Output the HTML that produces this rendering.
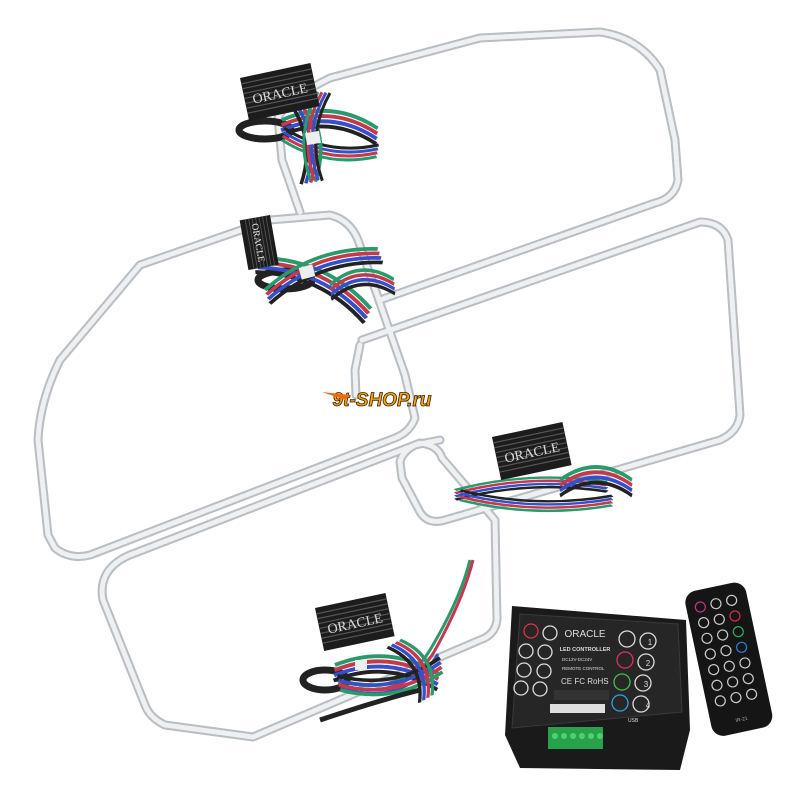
<!DOCTYPE html>
<html><head><meta charset="utf-8"><style>
html,body{margin:0;padding:0;background:#fff;width:800px;height:800px;overflow:hidden}
svg{display:block}
</style></head><body>
<svg width="800" height="800" viewBox="0 0 800 800" xmlns="http://www.w3.org/2000/svg">
<defs>
<g id="box">
<rect x="0" y="0" width="72" height="44" fill="#1c1c1c"/>
<g stroke="#555" stroke-width="1.2">
<line x1="0" y1="6" x2="72" y2="6"/><line x1="0" y1="11" x2="72" y2="11"/><line x1="0" y1="16" x2="72" y2="16"/><line x1="0" y1="21" x2="72" y2="21"/><line x1="0" y1="26" x2="72" y2="26"/><line x1="0" y1="31" x2="72" y2="31"/><line x1="0" y1="36" x2="72" y2="36"/>
</g>
<text x="36" y="28" font-family="Liberation Serif,serif" font-size="14" fill="#ddd" text-anchor="middle">ORACLE</text>
</g>
<g id="bund" fill="none" stroke-width="3">
<path d="M0,0 Q40,-20 80,0" stroke="#2a9a6a"/>
<path d="M0,4 Q40,-16 80,4" stroke="#c23a50"/>
<path d="M0,8 Q40,-12 80,8" stroke="#3550c8"/>
<path d="M0,12 Q40,-8 80,12" stroke="#222"/>
</g>
</defs>
<g fill="none" stroke-linejoin="round" stroke-linecap="round">
<g stroke="#b9bec4" stroke-width="9">
<path d="M300,212 L282,160 L278,118 Q285,100 330,78 L480,38 L600,32 Q640,38 660,70 L675,140 L678,180 Q675,198 655,203 L380,300"/>
<path d="M48,535 L38,440 Q40,400 60,360 L140,265 L270,220 L330,215 Q350,220 358,240 L405,375 L415,418 Q410,432 395,438 L90,555 Q70,560 55,548 Z"/>
<path d="M362,340 L700,222 Q722,222 728,240 L740,415 Q738,432 720,440 L445,520 Q428,525 420,512 L402,478 L400,462 Q402,452 415,445 L440,440"/>
<path d="M360,345 L355,370 L356,395"/>
<path d="M107,573 Q115,560 135,553 L420,443 Q438,445 442,458 L495,520 L497,620 Q495,635 480,640 L253,737 L165,725 Q150,718 145,705 L103,600 Q100,585 107,573 Z"/>
</g>
<g stroke="#eef0f2" stroke-width="5" stroke-dasharray="4 2">
<path d="M300,212 L282,160 L278,118 Q285,100 330,78 L480,38 L600,32 Q640,38 660,70 L675,140 L678,180 Q675,198 655,203 L380,300"/>
<path d="M48,535 L38,440 Q40,400 60,360 L140,265 L270,220 L330,215 Q350,220 358,240 L405,375 L415,418 Q410,432 395,438 L90,555 Q70,560 55,548 Z"/>
<path d="M362,340 L700,222 Q722,222 728,240 L740,415 Q738,432 720,440 L445,520 Q428,525 420,512 L402,478 L400,462 Q402,452 415,445 L440,440"/>
<path d="M360,345 L355,370 L356,395"/>
<path d="M107,573 Q115,560 135,553 L420,443 Q438,445 442,458 L495,520 L497,620 Q495,635 480,640 L253,737 L165,725 Q150,718 145,705 L103,600 Q100,585 107,573 Z"/>
</g>
</g>
<!-- bundle 1 -->
<ellipse cx="265" cy="130" rx="26" ry="9" fill="none" stroke="#222" stroke-width="7"/>
<use href="#bund" transform="translate(282,120) rotate(5) scale(1.2,1.3)"/>
<use href="#bund" transform="translate(282,140) rotate(10) scale(1.2,-1)"/>
<use href="#bund" transform="translate(300,95) rotate(80) scale(1.1,1.2)"/>
<use href="#bund" transform="translate(318,92) rotate(95) scale(1.1,-1)"/>
<!-- bundle 2 -->
<ellipse cx="285" cy="280" rx="27" ry="9" fill="none" stroke="#222" stroke-width="7"/>
<use href="#bund" transform="translate(262,258) rotate(25) scale(1.5,1.3)"/>
<use href="#bund" transform="translate(265,290) rotate(-20) scale(1.5,1.2)"/>
<use href="#bund" transform="translate(330,285) rotate(-5) scale(0.8,1.2)"/>
<!-- bundle 3 -->
<use href="#bund" transform="translate(455,490) rotate(-3) scale(1.9,0.8)"/>
<use href="#bund" transform="translate(460,500) rotate(2) scale(1.9,-0.8)"/>
<use href="#bund" transform="translate(560,480) rotate(0) scale(0.9,1.3)"/>
<!-- bundle 4 -->
<ellipse cx="325" cy="680" rx="22" ry="10" fill="none" stroke="#222" stroke-width="7"/>
<g fill="none" stroke-width="3">
<path d="M335,680 Q400,700 430,650 Q460,600 470,560" stroke="#2a9a6a"/>
<path d="M338,684 Q402,704 434,652 Q463,600 473,560" stroke="#c23a50"/>
<path d="M341,688 Q405,708 438,654" stroke="#3550c8"/>
</g>
<use href="#bund" transform="translate(335,665) rotate(5) scale(1.3,1.3)"/>
<use href="#bund" transform="translate(340,690) rotate(-10) scale(1.3,-1.2)"/>
<use href="#bund" transform="translate(400,640) rotate(60) scale(0.8,1.2)"/>
<path d="M320,720 Q380,700 420,690" stroke="#222" stroke-width="5" fill="none"/>
<rect x="306" y="132" width="14" height="12" fill="#eee" transform="rotate(-10 313 138)"/>
<rect x="300" y="266" width="14" height="12" fill="#eee" transform="rotate(-15 307 272)"/>
<rect x="355" y="660" width="12" height="10" fill="#eee"/>
<!-- boxes -->
<use href="#box" transform="translate(240,78) rotate(-12)"/>
<use href="#box" transform="translate(270,215) rotate(80 0 0) scale(0.7)"/>
<use href="#box" transform="translate(492,437) rotate(-12)"/>
<use href="#box" transform="translate(315,608) rotate(-12)"/>
<!-- logo -->
<text x="382" y="406" font-family="Liberation Sans,sans-serif" font-weight="bold" font-style="italic" font-size="19" fill="#f7a414" stroke="#3a2000" stroke-width="0.8" text-anchor="middle">9t-SHOP.ru</text>
<path d="M322,392 L350,395 L345,400 Z" fill="#f26a10"/>
<!-- controller -->
<polygon points="512,606 686,620 690,730 680,770 520,768 505,735" fill="#1a1a1a"/>
<polygon points="520,614 678,624 682,712 512,728" fill="#262626" stroke="#3a3a3a"/>
<rect x="548" y="727" width="55" height="22" fill="#27a24a"/>
<g fill="#4fd070"><circle cx="555" cy="736" r="3"/><circle cx="564" cy="736" r="3"/><circle cx="573" cy="736" r="3"/><circle cx="582" cy="736" r="3"/><circle cx="591" cy="736" r="3"/><circle cx="600" cy="736" r="3"/></g>
<g fill="none" stroke="#ddd" stroke-width="1.3">
<circle cx="531" cy="631" r="7" stroke="#e0304a"/><circle cx="550" cy="633" r="7"/>
<circle cx="526" cy="651" r="7"/><circle cx="545" cy="652" r="7"/>
<circle cx="524" cy="670" r="7"/><circle cx="544" cy="671" r="7"/>
<circle cx="521" cy="688" r="7"/><circle cx="540" cy="689" r="7"/>
<circle cx="627" cy="639" r="8"/><circle cx="648" cy="641" r="8"/>
<circle cx="625" cy="660" r="8" stroke="#e0305a"/><circle cx="646" cy="662" r="8"/>
<circle cx="622" cy="682" r="8" stroke="#40c050"/><circle cx="643" cy="683" r="8"/>
<circle cx="620" cy="703" r="8" stroke="#30a0e0"/><circle cx="641" cy="704" r="8"/>
</g>
<g font-family="Liberation Sans,sans-serif" fill="#ddd">
<text x="585" y="637" font-size="10" text-anchor="middle">ORACLE</text>
<text x="585" y="651" font-size="5.5" text-anchor="middle" font-weight="bold">LED CONTROLLER</text>
<text x="562" y="661" font-size="4.5">DC12V-DC24V</text>
<text x="562" y="670" font-size="4.5">REMOTE CONTROL</text>
<text x="561" y="684" font-size="8">CE FC RoHS</text>
<text x="648" y="708" font-size="8" text-anchor="middle">4</text>
<text x="650" y="645" font-size="8" text-anchor="middle">1</text>
<text x="648" y="666" font-size="8" text-anchor="middle">2</text>
<text x="646" y="687" font-size="8" text-anchor="middle">3</text>
<text x="628" y="722" font-size="5">USB</text>
</g>
<rect x="554" y="690" width="55" height="10" fill="#333"/>
<rect x="550" y="704" width="55" height="9" fill="#ddd"/>
<!-- remote -->
<g transform="rotate(-12 730 660)">
<rect x="698" y="585" width="62" height="148" rx="12" fill="#151515"/>
<g fill="none" stroke="#ccc" stroke-width="1.2">
<circle cx="712" cy="602" r="5" stroke="#d0308a"/><circle cx="728" cy="602" r="5"/><circle cx="744" cy="602" r="5"/>
<circle cx="712" cy="618" r="5"/><circle cx="728" cy="618" r="5"/><circle cx="744" cy="618" r="5" stroke="#d03050"/>
<circle cx="712" cy="634" r="5"/><circle cx="728" cy="634" r="5"/><circle cx="744" cy="634" r="5" stroke="#30b060"/>
<circle cx="712" cy="650" r="5"/><circle cx="728" cy="650" r="5"/><circle cx="744" cy="650" r="5" stroke="#3080e0"/>
<circle cx="712" cy="666" r="5"/><circle cx="728" cy="666" r="5"/><circle cx="744" cy="666" r="5"/>
<circle cx="712" cy="682" r="5"/><circle cx="728" cy="682" r="5"/><circle cx="744" cy="682" r="5"/>
<circle cx="712" cy="698" r="5"/><circle cx="728" cy="698" r="5"/><circle cx="744" cy="698" r="5"/>
</g>
<text x="729" y="722" font-family="Liberation Sans,sans-serif" font-size="5" fill="#aaa" text-anchor="middle">IR-21</text>
</g>
</svg>
</body></html>
